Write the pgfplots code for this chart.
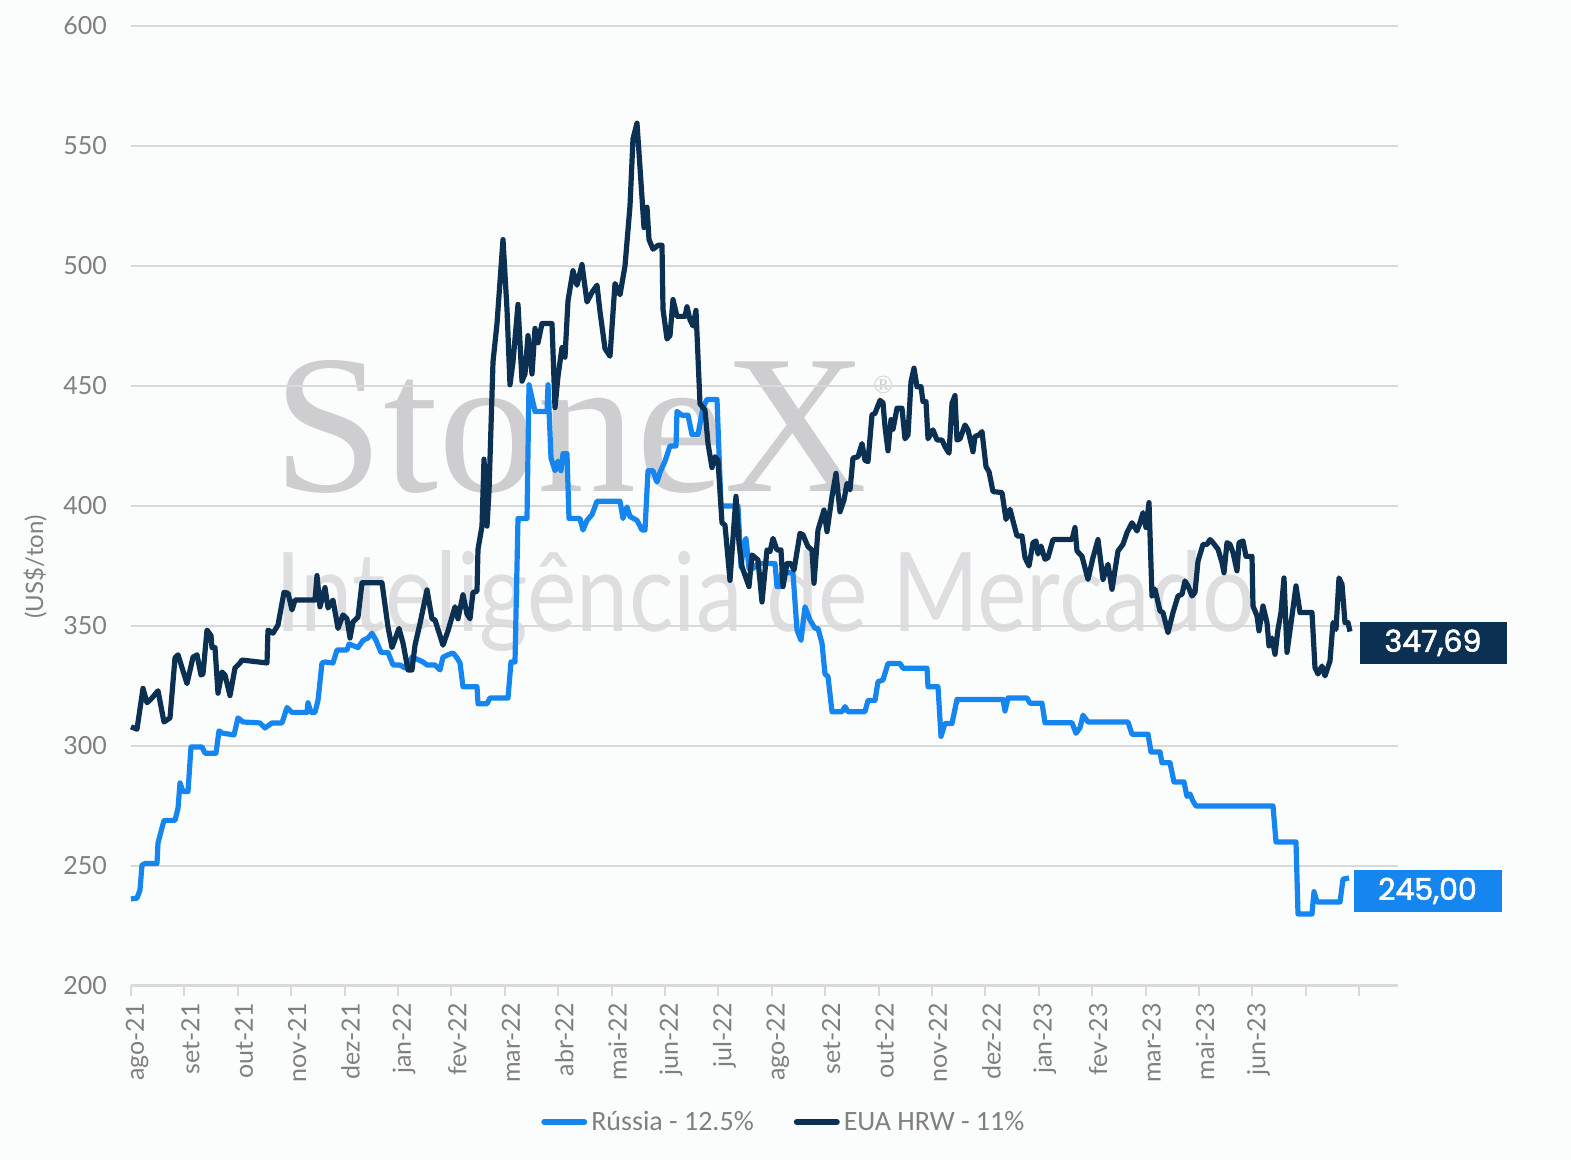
\documentclass[border=0pt]{standalone}
\usepackage{fontspec}
\setmainfont{Lato}
\newfontfamily\wmserif{Liberation Serif}
\newfontfamily\legfont{Carlito}
\newfontfamily\boxfont[FakeBold=2]{Poppins}
\usepackage{pgfplots}
\pgfplotsset{compat=1.18}
\definecolor{navy}{RGB}{11,48,82}
\definecolor{skyb}{RGB}{21,133,240}
\definecolor{gridc}{RGB}{217,217,217}
\definecolor{tickc}{RGB}{128,128,128}
\definecolor{wm}{RGB}{206,206,208}
\definecolor{wmlight}{RGB}{222,222,224}
\definecolor{bgc}{RGB}{251,252,252}
\begin{document}
\begin{tikzpicture}[x=0.5pt,y=0.5pt]
\fill[bgc] (0,0) rectangle (1571,1160);
% watermark
\node[anchor=base west, inner sep=0, text=wm, font=\wmserif\fontsize{99}{99}\selectfont] at (273,668) {StoneX\hspace{3pt}\raisebox{49pt}{\fontsize{13}{13}\selectfont ®}};
\node[anchor=base west, inner sep=0, text=wmlight, font=\fontsize{55}{55}\selectfont] at (275,528) {\resizebox{490pt}{\height}{Inteligência de Mercado}};
% y label
\node[rotate=90, text=tickc, font=\fontsize{12}{12}\selectfont] at (35,593) {(US\$/ton)};
\begin{axis}[
  at={(65.5pt,87pt)}, anchor=south west,
  scale only axis, width=633.5pt, height=480pt,
  xmin=131, xmax=1398, ymin=200, ymax=600,
  clip=false,
  axis x line*=bottom, axis y line*=left,
  y axis line style={draw=none},
  x axis line style={draw=gridc, line width=1.5pt},
  ytick={200,250,...,600},
  ytick style={draw=none},
  xtick={131,184.4,237.8,291.2,344.6,398,451.4,504.8,558.2,611.6,665,718.4,771.8,825.2,878.6,932,985.4,1038.8,1092.2,1145.6,1199,1252.4,1305.8,1359.2},
  xticklabels={ago-21,set-21,out-21,nov-21,dez-21,jan-22,fev-22,mar-22,abr-22,mai-22,jun-22,jul-22,ago-22,set-22,out-22,nov-22,dez-22,jan-23,fev-23,mar-23,mai-23,jun-23,{},{}},
  xtick style={draw=gridc, line width=1pt},
  tick align=outside, major tick length=5pt,
  ymajorgrids, grid style={draw=gridc, line width=0.9pt},
  /pgf/number format/assume math mode=true,
  yticklabel style={text=tickc, font=\fontsize{12.5}{12.5}\selectfont, xshift=-3.5pt},
  xticklabel style={rotate=90, anchor=east, text=tickc, font=\fontsize{12.5}{12.5}\selectfont, yshift=-3pt},
  legend style={at={(0.516,-0.1417)}, anchor=center, draw=none, fill=none,
    font=\legfont\fontsize{14}{14}\selectfont, text=tickc,
    legend columns=2, /tikz/every even column/.append style={column sep=18pt},
    inner sep=0pt},
  legend image code/.code={\draw[#1, line width=3pt, line cap=round] (0pt,0pt) -- (20pt,0pt);},
]
\addplot[skyb, line width=2.6pt, line join=round] coordinates {
(131,236.25)(137,236.6)(140,240)(142,250.4)(145,251)(157,251)(158,259.6)(164,269)(175,269)(178,274)(180,284.6)(183,281)(188,281)(191,299.6)(202,299.6)(205,297)(216,297)(219,306.3)(222,305.4)(234,304.6)(238,311.7)(243,310)(260,309.6)(265,307.5)(272,309.6)(282,309.6)(287,316)(292,314)(307,314)(308,318)(311,314)(315,314)(318,319)(322,334.6)(325,335)(333,334.6)(337,340)(347,340)(349,342.5)(358,341)(363,344)(368,345)(372,347)(376,344)(381,339)(388,339)(393,333.75)(400,333.75)(405,332.5)(412,337)(418,336)(423,335)(427,333.75)(435,333.75)(440,331.7)(443,337)(448,338)(453,338.75)(457,336.7)(460,334.6)(463,324.7)(477,324.7)(478,317.6)(487,317.6)(490,320)(508,320)(511,335)(515,335)(518,394.8)(527,394.8)(529,450.5)(535,439.4)(547,439.4)(548,450.5)(551,420)(555,414.7)(558,418.7)(561,414.7)(563,421.8)(567,421.8)(569,394.8)(580,394.8)(583,390)(587,394)(592,396.4)(597,402)(620,402)(623,394.8)(627,399.6)(630,395.6)(637,394)(642,390)(645,390)(648,414.7)(653,414.7)(657,410)(660,414)(665,418.7)(670,425)(676,425)(677,439.4)(682,437.8)(688,437.8)(692,429.8)(698,429.8)(703,441)(707,444.4)(717,444.4)(721,400)(738,400)(741,374.7)(744,384.4)(746,386.5)(749,374)(753,374)(758,376)(775,376)(777,366.4)(780,366.4)(782,372.6)(793,372)(797,348.3)(801,344)(805,358)(810,352.5)(815,349)(818,349)(822,342.8)(825,330)(828,328.9)(832,314.3)(842,314.3)(845,316.4)(848,314.3)(865,314.3)(868,319)(875,319)(878,326.8)(883,327.5)(888,334.4)(900,334.4)(903,332.4)(927,332.4)(928,324.7)(938,324.7)(941,304)(945,309.4)(952,309.4)(957,319.4)(1003,319.4)(1005,314.6)(1008,320)(1027,320)(1030,317.8)(1042,317.8)(1045,309.7)(1072,309.7)(1076,305.3)(1080,307.6)(1083,312.8)(1088,310)(1128,310)(1132,304.9)(1148,304.9)(1151,297.5)(1160,297.5)(1162,293)(1170,293)(1174,285)(1184,285)(1187,279)(1190,280)(1193,277)(1196,275)(1273,275)(1276,260)(1296,260)(1298,230)(1312,230)(1314,239.3)(1317,235)(1340,235)(1343,244.5)(1349,245)
};
\addlegendentry{Rússia - 12.5\%}
\addplot[navy, line width=2.6pt, line join=round] coordinates {
(131,308)(137,307)(143,324)(147,318)(152,320)(158,323)(164,310)(170,311.7)(175,336.7)(178,338)(187,326)(193,337)(197,338)(201,329.6)(203,330)(207,348.3)(211,346)(212,341)(215,341)(218,322)(222,330.8)(225,329.6)(230,321)(235,332.5)(240,334.6)(242,335.8)(267,334.6)(268,348.3)(273,347)(278,350.4)(284,364)(288,363.7)(292,356.7)(295,360.8)(315,360.8)(317,371)(320,358)(325,366)(328,357.5)(333,360.8)(338,349)(343,354.6)(347,353)(350,345)(353,351.7)(358,353.7)(362,368)(382,368)(388,349.6)(392,341)(399,349)(403,342.9)(408,331.7)(412,331.7)(415,342)(420,351)(427,365)(432,353)(435,352.5)(440,346)(443,342)(448,348)(455,358)(458,353)(463,363)(467,355)(470,353)(473,364)(477,364.5)(478,382)(482,391.6)(484,419.5)(487,391.6)(489,406)(493,460)(497,476)(503,511)(507,482)(510,450.5)(513,460)(518,484)(522,452)(525,455)(528,471)(532,455)(535,474)(538,468)(542,476)(552,476)(555,441)(558,454)(562,466)(565,462)(568,485.5)(573,498)(577,492)(582,500.6)(587,485)(592,489)(597,492)(600,481)(605,465.6)(610,462.4)(615,492.7)(620,488)(625,500)(630,525)(633,553)(637,559.5)(640,541)(644,516)(647,524.5)(649,511)(653,507)(658,508.6)(662,508.6)(663,482)(667,469.6)(670,471)(673,486)(677,479)(685,479)(687,483)(690,477.6)(693,475)(696,481.5)(700,442.5)(703,441)(705,440)(708,426)(712,416)(715,420.5)(718,419)(722,393)(725,392)(730,369)(736,404)(739,384.4)(742,374.7)(749,366.4)(752,379.6)(758,377.5)(762,360)(767,381.7)(770,381)(773,386.5)(777,381.7)(781,381.7)(783,366.4)(787,376)(791,376)(794,373.3)(800,388.6)(803,388)(808,383)(812,381.7)(814,367.8)(818,390)(824,398.3)(827,389.3)(832,404)(836,413.6)(840,397.6)(844,402.5)(847,409.4)(850,406.7)(853,420)(858,420.5)(862,426)(865,419)(868,418.5)(872,438)(875,438.6)(880,444)(883,443)(885,433)(888,423)(891,436)(893,432)(897,440.7)(902,440.7)(905,428)(908,429.6)(911,451.8)(914,457.4)(917,449.7)(921,449.7)(923,443.5)(926,443.5)(928,428)(933,431.7)(937,427.5)(942,427.5)(945,424.7)(949,422)(952,442.8)(955,446)(957,427.5)(960,428)(965,433.75)(968,431.7)(973,422.6)(975,429)(979,429.6)(982,431)(986,416.4)(989,414.3)(993,406)(1002,405.6)(1006,394.4)(1010,398.6)(1013,393.75)(1017,387.5)(1022,387.5)(1025,378.5)(1029,375)(1033,384.7)(1036,385.4)(1038,380)(1041,383.3)(1045,377.8)(1048,378.5)(1053,386)(1072,386)(1075,391)(1077,381.25)(1082,379)(1088,369.4)(1093,378.5)(1098,386)(1103,369.4)(1108,375.7)(1112,365.3)(1118,381.25)(1123,384)(1127,388.9)(1132,393)(1137,389.6)(1140,393)(1143,397.2)(1146,391)(1149,401.4)(1152,362.5)(1155,365.3)(1160,356.25)(1163,355.6)(1168,347.2)(1173,355.6)(1178,362.5)(1182,363.2)(1185,368.75)(1188,366.7)(1192,362.5)(1195,364)(1198,377)(1203,384)(1207,384)(1210,386)(1213,384.7)(1218,382)(1222,376.4)(1224,372.2)(1227,384.7)(1230,384)(1233,380.6)(1237,373)(1239,384.7)(1243,385.4)(1246,379)(1252,379)(1253,358.3)(1257,354.2)(1259,348)(1263,358.3)(1267,351.4)(1269,341.7)(1272,345)(1275,338.2)(1278,348.6)(1281,355.6)(1284,370)(1287,339)(1292,354.2)(1296,366.7)(1300,355.6)(1312,355.6)(1315,332.6)(1318,330)(1322,333.3)(1325,329.2)(1330,335.4)(1333,351.4)(1336,348.6)(1339,370)(1342,367.4)(1345,351.4)(1348,351.4)(1350,347.69)
};
\addlegendentry{EUA HRW - 11\%}
\node[fill=navy, text=white, minimum width=73.5pt, minimum height=21pt, inner sep=0pt, font=\boxfont\fontsize{15}{15}\selectfont] at (axis cs:1433,343) {347,69};
\node[fill=skyb, text=white, minimum width=74pt, minimum height=21pt, inner sep=0pt, font=\boxfont\fontsize{15}{15}\selectfont] at (axis cs:1427.5,239.6) {245,00};
\end{axis}
\end{tikzpicture}
\end{document}
